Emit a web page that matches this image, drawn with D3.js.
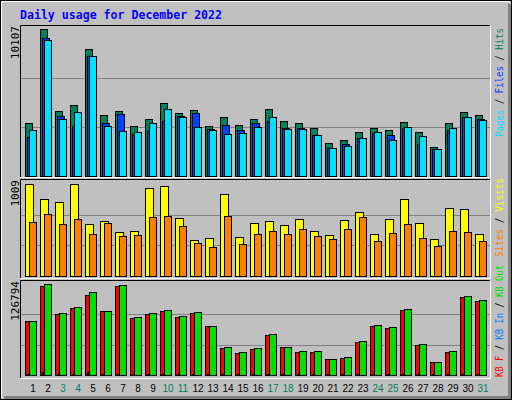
<!DOCTYPE html>
<html><head><meta charset="utf-8">
<script src="https://cdn.jsdelivr.net/npm/d3@7"></script>
<style>body{margin:0;background:#fff}svg{display:block}</style>
</head><body>
<script>
const days = d3.range(1, 32);
const weekend = [3,4,10,11,17,18,24,25,31];
const hits  = [3623,10107,4449,4861,8712,4174,4449,3417,3899,4999,4311,4518,3417,4036,3486,3899,4586,3761,3624,3280,2248,2455,3005,3280,3142,3692,3005,1973,3624,4380,4174];
const files = [2703,9468,4105,3438,8231,3624,4243,2867,3074,3761,4105,4311,3211,3486,3142,3624,3761,3280,3280,2799,1905,2180,2592,2936,2799,3280,2180,1836,3142,4036,3899];
const pages = [3142,9331,3919,4380,8231,3417,3074,3005,3624,4586,4036,3349,3142,2867,2936,3349,4036,3211,3211,2799,1905,2042,2592,3005,2455,3349,2730,1836,3280,4036,3830];
const visits = [1009,845,812,1009,570,603,483,494,965,987,636,395,417,900,428,581,603,560,625,494,450,614,702,461,625,845,581,406,746,735,461];
const sites  = [592,680,570,625,461,581,439,450,647,658,549,362,318,658,351,461,494,461,516,439,406,516,647,384,472,570,417,329,494,483,384];
const kbF   = [75240,124006,84990,93350,111464,89170,124006,79418,84990,89170,80811,86385,68272,37619,30652,36226,55732,39012,32046,32046,22293,23686,45979,68272,65485,90564,41799,18113,32046,108677,103104];
const kbIn  = [1400,4200,1400,1400,4200,1400,1400,700,1400,1400,1400,1400,700,1400,1400,1400,1400,1400,1400,700,700,700,700,700,1400,1400,700,700,700,1400,1400];
const kbOut = [75240,126794,86385,94745,115644,89170,125397,80811,86385,90564,82205,87778,68272,39012,32046,37619,57125,39012,33439,33439,22293,25079,47373,69665,66878,91958,43192,18113,33439,110071,104497];

const W = 512, H = 400;
const svg = d3.select("body").append("svg").attr("width", W).attr("height", H);
svg.append("rect").attr("width", W).attr("height", H).attr("fill", "#c0c0c0");
svg.append("rect").attr("x",0.5).attr("y",0.5).attr("width",W-1).attr("height",H-1).attr("fill","none").attr("stroke","#000");
svg.append("path").attr("d","M1.5,398V1.5H510").attr("stroke","#fff").attr("fill","none");
svg.append("rect").attr("x",508).attr("y",4).attr("width",3).attr("height",395).attr("fill","#808080");
svg.append("rect").attr("x",4).attr("y",396).attr("width",507).attr("height",3).attr("fill","#808080");

svg.append("text").attr("x",20).attr("y",19).text("Daily usage for December 2022")
  .attr("font-family","DejaVu Sans Mono, monospace").attr("font-weight","bold").attr("font-size",12)
  .attr("textLength",202).attr("lengthAdjust","spacingAndGlyphs").attr("fill","#0000ff");

const x = d3.scaleLinear().domain([1, 31]).range([25, 475]);

function panel(top, bottom, base, maxTop, maxVal, label, series, legend, legStart, legLen) {
  svg.append("rect").attr("x",20).attr("y",top).attr("width",471).attr("height",bottom-top).attr("fill","#c0c0c0");
  const y = d3.scaleLinear().domain([0, maxVal]).range([base, maxTop]);
  [maxVal/3, maxVal*2/3].forEach(v => svg.append("line").attr("x1",21).attr("x2",490)
    .attr("y1",Math.round(y(v))+0.5).attr("y2",Math.round(y(v))+0.5).attr("stroke","#808080"));
  svg.append("path").attr("d",`M20.5,${bottom}V${top+0.5}H491`).attr("stroke","#000").attr("fill","none");
  svg.append("path").attr("d",`M20,${bottom-0.5}H490.5V${top}`).attr("stroke","#fff").attr("fill","none");
  series.forEach(s => {
    svg.append("g").selectAll("rect").data(s.data).join("rect")
      .attr("x",(d,i)=>x(days[i])+s.off+0.5).attr("width",s.w)
      .attr("y",d=>Math.round(y(d))+0.5).attr("height",d=>Math.max(0, base-Math.round(y(d))))
      .attr("fill",s.color).attr("stroke","#000");
  });
  svg.append("text").attr("transform",`translate(19,${top+1}) rotate(-90)`).attr("text-anchor","end")
    .attr("font-family","DejaVu Sans Mono, monospace").attr("font-size",11).attr("fill","#000").text(label);
  const t = svg.append("text").attr("transform",`translate(503,${legStart}) rotate(-90)`)
    .attr("font-family","DejaVu Sans Mono, monospace").attr("font-size",10)
    .attr("textLength",legLen).attr("lengthAdjust","spacingAndGlyphs");
  legend.forEach((p,i) => {
    if (i) t.append("tspan").attr("fill","#000").text(" / ");
    t.append("tspan").attr("fill",p[1]).text(p[0]);
  });
}

panel(25, 178, 176, 29, 10107, "10107", [
  {data: hits, off: 0, w: 7, color: "#00805c"},
  {data: files, off: 2, w: 7, color: "#0040ff"},
  {data: pages, off: 4, w: 7, color: "#00e0ff"}
], [["Pages","#00e0ff"],["Files","#0040ff"],["Hits","#00805c"]], 137, 109);

panel(179, 279, 276, 184, 1009, "1009", [
  {data: visits, off: 0, w: 8, color: "#ffff00"},
  {data: sites, off: 4, w: 7, color: "#ff8000"}
], [["Sites","#ff8000"],["Visits","#ffff00"]], 257, 79);

panel(280, 379, 375, 284, 126794, "126794", [
  {data: kbF, off: 0, w: 8, color: "#ff0000"},
  {data: kbIn, off: 2, w: 1, color: "#0080ff"},
  {data: kbOut, off: 4, w: 7, color: "#00e000"}
], [["KB F","#ff0000"],["KB In","#0080ff"],["KB Out","#00e000"]], 377, 112);

svg.append("g").selectAll("text").data(days).join("text")
  .attr("x",d=>x(d)+8).attr("y",392).attr("text-anchor","middle")
  .attr("font-family","Liberation Sans, Arial, sans-serif").attr("font-size",10)
  .attr("fill",d=>weekend.includes(d)?"#00805c":"#000").text(d=>d);
</script>
</body></html>
